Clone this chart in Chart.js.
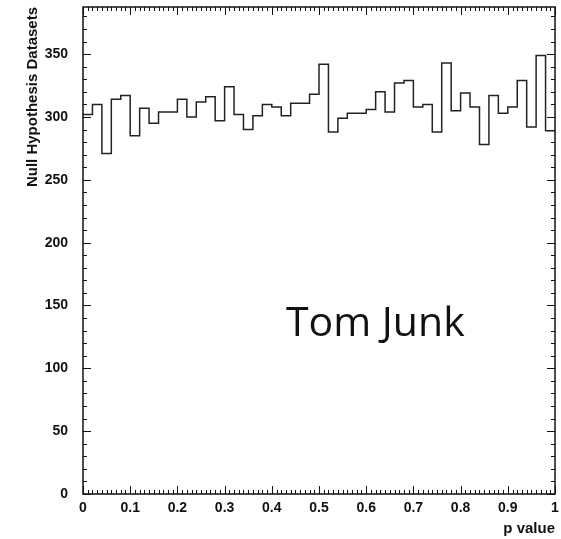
<!DOCTYPE html>
<html>
<head>
<meta charset="utf-8">
<script src="https://cdn.jsdelivr.net/npm/chart.js@4.4.1/dist/chart.umd.min.js"></script>
<style>
  html, body { margin: 0; padding: 0; background: #fff; }
  #wrap { position: relative; width: 561px; height: 539px; }
  #note {
    position: absolute; left: 286px; top: 300px;
    font: 41px "Open Sans", sans-serif; line-height: 41px;
    color: #111; white-space: nowrap;
  }
</style>
</head>
<body>
<div id="wrap">
  <canvas id="chart" width="561" height="539"></canvas>
  <div id="note">Tom Junk</div>
</div>
<script>
// Histograma de p-values bajo la hipótesis nula: 50 bins de ancho 0.02 entre 0 y 1.
const BIN_WIDTH = 0.02;
const counts = [
  302, 310, 271, 314, 317, 285, 307, 295, 304, 304,
  314, 300, 312, 316, 297, 324, 302, 290, 301, 310,
  308, 301, 311, 311, 318, 342, 288, 299, 303, 303,
  306, 320, 304, 327, 329, 308, 310, 288, 343, 305,
  319, 308, 278, 317, 303, 308, 329, 292, 349, 289,
];
const X_RANGE = [0, 1];
const Y_RANGE = [0, 387.5];
const X_STEP = 0.1, X_MINOR = 0.01;
const Y_STEP = 50, Y_MINOR = 10;

const FONT = "'Liberation Sans', Arial, sans-serif";
const INK = "#111";

// escalón "before": cada punto es el borde izquierdo del bin (el valor se mantiene hasta el
// siguiente punto); un punto extra en x=1 cierra el último bin
const points = counts.map((c, i) => ({ x: i * BIN_WIDTH, y: c }));
points.push({ x: X_RANGE[1], y: counts[counts.length - 1] });

// marco estilo ROOT con ticks hacia adentro en los cuatro lados
const frameTicks = {
  id: "frameTicks",
  afterDatasetsDraw(chart) {
    const { ctx, chartArea: a, scales: { x, y } } = chart;
    ctx.save();
    ctx.strokeStyle = INK;
    ctx.lineWidth = 1;
    ctx.beginPath();
    const nY = Math.round((Y_RANGE[1] - Y_RANGE[0]) / Y_MINOR);
    for (let i = 0; i <= nY; i++) {
      const v = Y_RANGE[0] + i * Y_MINOR;
      if (v > Y_RANGE[1]) break;
      const py = Math.round(y.getPixelForValue(v)) + 0.5;
      const len = i % (Y_STEP / Y_MINOR) === 0 ? 8 : 4;
      ctx.moveTo(a.left, py); ctx.lineTo(a.left + len, py);
      ctx.moveTo(a.right, py); ctx.lineTo(a.right - len, py);
    }
    const nX = Math.round((X_RANGE[1] - X_RANGE[0]) / X_MINOR);
    for (let i = 0; i <= nX; i++) {
      const px = Math.round(x.getPixelForValue(X_RANGE[0] + i * X_MINOR)) + 0.5;
      const len = i % Math.round(X_STEP / X_MINOR) === 0 ? 8 : 4;
      ctx.moveTo(px, a.bottom); ctx.lineTo(px, a.bottom - len);
      ctx.moveTo(px, a.top); ctx.lineTo(px, a.top + len);
    }
    ctx.stroke();
    ctx.lineWidth = 1.5;
    ctx.strokeRect(a.left, a.top, a.right - a.left, a.bottom - a.top);
    ctx.restore();
  },
};

new Chart(document.getElementById("chart"), {
  type: "line",
  data: {
    datasets: [
      {
        data: points,
        stepped: "before",
        borderColor: "#222",
        borderWidth: 1.5,
        pointRadius: 0,
        fill: false,
      },
    ],
  },
  options: {
    responsive: false,
    animation: false,
    layout: { padding: { top: 7, right: 6, left: 0, bottom: 0 } },
    plugins: { legend: { display: false }, tooltip: { enabled: false } },
    scales: {
      x: {
        type: "linear",
        min: X_RANGE[0],
        max: X_RANGE[1],
        grid: { display: false, drawTicks: false },
        border: { display: false },
        ticks: {
          stepSize: X_STEP,
          includeBounds: false,
          maxRotation: 0,
          padding: 6,
          color: INK,
          font: { family: FONT, size: 14, weight: "bold" },
          callback: (v) => String(+v.toFixed(1)),
        },
        title: {
          display: true,
          text: "p value",
          align: "end",
          color: INK,
          font: { family: FONT, size: 15, weight: "bold" },
          padding: { top: 0, bottom: 1 },
        },
        // el área del gráfico queda fija: sin márgenes extra por las etiquetas
        afterFit: (s) => { s.height = 45; s.paddingLeft = 0; s.paddingRight = 0; },
      },
      y: {
        min: Y_RANGE[0],
        max: Y_RANGE[1],
        grid: { display: false, drawTicks: false },
        border: { display: false },
        ticks: {
          stepSize: Y_STEP,
          includeBounds: false,
          padding: 15,
          color: INK,
          font: { family: FONT, size: 14, weight: "bold" },
        },
        title: {
          display: true,
          text: "Null Hypothesis Datasets",
          align: "end",
          color: INK,
          font: { family: FONT, size: 15, weight: "bold" },
          padding: { top: 24, bottom: 0 },
        },
        afterFit: (s) => { s.width = 83; s.paddingTop = 0; s.paddingBottom = 0; },
      },
    },
  },
  plugins: [frameTicks],
});
</script>
</body>
</html>
